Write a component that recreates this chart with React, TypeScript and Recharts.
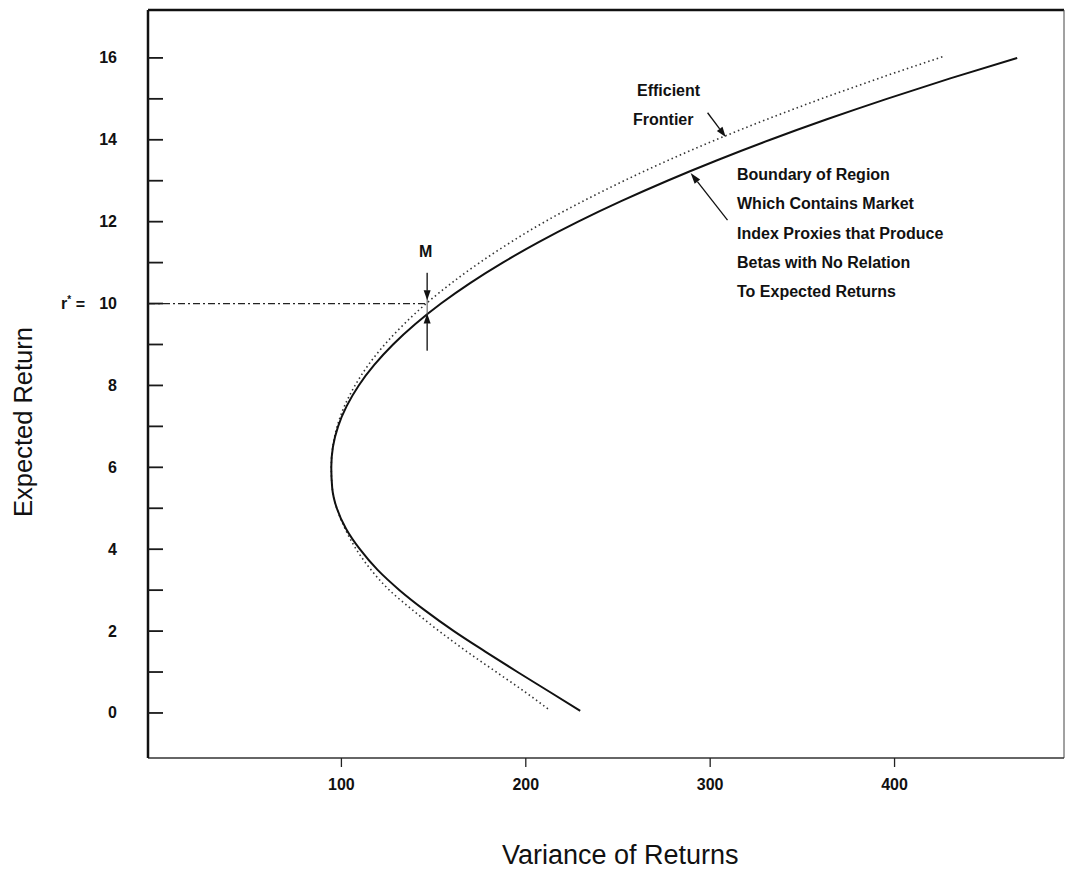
import React from 'react';
import { LineChart, Line, XAxis, YAxis, ReferenceLine } from 'recharts';

// boundary of region (solid curve): expected return -> variance
const BOUNDARY_MU = [0.05, 0.5, 1, 1.5, 2, 2.5, 3, 3.5, 4, 4.5, 5, 5.5, 6, 6.5, 7, 7.5, 8, 8.5, 9, 9.5, 10, 10.5, 11, 11.5, 12, 12.5, 13, 13.5, 14, 14.5, 15, 15.5, 16];
const BOUNDARY_VAR = [229.5, 213.5, 195.5, 178, 161, 145.5, 131.5, 119.5, 110, 102.5, 97.5, 95, 94.5, 95.4, 98.2, 102.9, 109.4, 117.8, 128, 140.1, 154, 169.8, 187.5, 207, 228.4, 251.7, 276.8, 303.8, 332.6, 363.3, 395.8, 430.2, 466.5];

// efficient frontier (dotted curve)
const FRONTIER_MU = [0.1, 0.5, 1, 1.5, 2, 2.5, 3, 3.5, 4, 4.5, 5, 5.5, 6, 6.5, 7, 7.5, 8, 8.5, 9, 9.5, 10, 10.5, 11, 11.5, 12, 12.5, 13, 13.5, 14, 14.5, 15, 15.5, 16.05];
const FRONTIER_VAR = [212, 200, 184, 168, 153, 139, 126, 116, 108, 102, 97.5, 95, 94.5, 95.3, 97.7, 101.7, 107.4, 114.6, 123.5, 134, 146, 159.7, 175, 191.9, 210.4, 231, 253.3, 277.3, 303.1, 330.8, 360.2, 391.4, 427.5];

const X_TICKS = [100, 200, 300, 400];
const Y_TICKS = [0, 1, 2, 3, 4, 5, 6, 7, 8, 9, 10, 11, 12, 13, 14, 15, 16];
const X_DOMAIN: [number, number] = [-4.9, 491.9];
const Y_DOMAIN: [number, number] = [-1.1, 17.17];

const R_STAR = 10;
const M_VAR = 146.5;

const boundary = BOUNDARY_MU.map((mu, i) => ({ mu, v: BOUNDARY_VAR[i] }));
const frontier = FRONTIER_MU.map((mu, i) => ({ mu, v: FRONTIER_VAR[i] }));

const FONT = "'Liberation Sans', Arial, Helvetica, sans-serif";

function arrowShape(head: number, width: number, color: string, sw: number) {
  return (p: any) => {
    const { x1, y1, x2, y2 } = p;
    const a = Math.atan2(y2 - y1, x2 - x1);
    const bx = x2 - head * Math.cos(a);
    const by = y2 - head * Math.sin(a);
    const nx = (-Math.sin(a) * width) / 2;
    const ny = (Math.cos(a) * width) / 2;
    return (
      <g>
        <line x1={x1} y1={y1} x2={bx} y2={by} stroke={color} strokeWidth={sw} />
        <polygon points={`${x2},${y2} ${bx + nx},${by + ny} ${bx - nx},${by - ny}`} fill={color} />
      </g>
    );
  };
}

function YTick(props: any) {
  const { x, y, payload } = props;
  const v = payload.value;
  return (
    <g>
      <line x1={x} x2={x + 15} y1={y} y2={y} stroke="#1a1a1a" strokeWidth={1.8} />
      {v % 2 === 0 && (
        <text x={x - 31} y={y} textAnchor="end" dominantBaseline="central"
          fontFamily={FONT} fontWeight="bold" fontSize={16} fill="#111">
          {v}
        </text>
      )}
      {v === R_STAR && (
        <text x={x - 63} y={y} textAnchor="end" dominantBaseline="central"
          fontFamily={FONT} fontWeight="bold" fontSize={16} fill="#111">
          r<tspan fontSize={10} dy={-5}>*</tspan><tspan dy={5}> =</tspan>
        </text>
      )}
    </g>
  );
}

function XTick(props: any) {
  const { x, y, payload } = props;
  return (
    <g>
      <line x1={x} x2={x} y1={y} y2={y + 9} stroke="#222" strokeWidth={1.3} />
      <text x={x} y={y + 26} textAnchor="middle" dominantBaseline="central"
        fontFamily={FONT} fontWeight="bold" fontSize={16} fill="#111">
        {payload.value}
      </text>
    </g>
  );
}

const note: React.CSSProperties = {
  position: 'absolute',
  fontFamily: FONT,
  fontWeight: 'bold',
  fontSize: 16,
  color: '#111',
  whiteSpace: 'nowrap',
};

export default function App() {
  return (
    <div style={{ position: 'absolute', left: 0, top: 0, width: 1066, height: 872, background: '#fff' }}>
      <LineChart
        layout="vertical"
        width={1066}
        height={872}
        margin={{ top: 10, right: 2, bottom: 113, left: 147 }}
      >
        <XAxis
          type="number"
          domain={X_DOMAIN}
          ticks={X_TICKS}
          allowDataOverflow
          height={1}
          tickSize={0}
          tickMargin={0}
          tickLine={false}
          interval={0}
          tick={<XTick />}
          axisLine={{ stroke: '#333', strokeWidth: 1.5 }}
        />
        <YAxis
          type="number"
          dataKey="mu"
          domain={Y_DOMAIN}
          ticks={Y_TICKS}
          reversed
          allowDataOverflow
          width={1}
          tickSize={0}
          tickMargin={0}
          tickLine={false}
          interval={0}
          tick={<YTick />}
          axisLine={{ stroke: '#111', strokeWidth: 2.5 }}
        />

        {/* frame: top and right */}
        <ReferenceLine y={Y_DOMAIN[1]} stroke="#111" strokeWidth={2.5} />
        <ReferenceLine x={X_DOMAIN[1]} stroke="#444" strokeWidth={1} />

        {/* r* dashed line to M */}
        <ReferenceLine
          segment={[{ x: X_DOMAIN[0], y: R_STAR }, { x: M_VAR, y: R_STAR }]}
          stroke="#222"
          strokeWidth={1.2}
          strokeDasharray="7 3 2 3"
        />

        <Line
          data={frontier}
          dataKey="v"
          type="monotone"
          stroke="#333"
          strokeWidth={1.6}
          strokeDasharray="1.5 3"
          dot={false}
          isAnimationActive={false}
        />
        <Line
          data={boundary}
          dataKey="v"
          type="monotone"
          stroke="#111"
          strokeWidth={2}
          dot={false}
          isAnimationActive={false}
        />

        {/* M marker */}
        <ReferenceLine segment={[{ x: M_VAR, y: 10.75 }, { x: M_VAR, y: 8.85 }]} stroke="#555" strokeWidth={1} />
        <ReferenceLine segment={[{ x: M_VAR, y: 10.75 }, { x: M_VAR, y: 10.08 }]} shape={arrowShape(10, 7, '#111', 1)} />
        <ReferenceLine segment={[{ x: M_VAR, y: 8.85 }, { x: M_VAR, y: 9.76 }]} shape={arrowShape(10, 7, '#111', 1)} />

        {/* annotation arrows */}
        <ReferenceLine segment={[{ x: 298.6, y: 14.66 }, { x: 308.4, y: 14.07 }]} shape={arrowShape(10, 7, '#111', 1.3)} />
        <ReferenceLine segment={[{ x: 309.4, y: 12.04 }, { x: 289.4, y: 13.19 }]} shape={arrowShape(11, 7, '#111', 1.3)} />
      </LineChart>

      <div style={{ ...note, left: 637, top: 82 }}>Efficient</div>
      <div style={{ ...note, left: 633, top: 111 }}>Frontier</div>
      <div style={{ ...note, left: 419, top: 243 }}>M</div>

      <div style={{ ...note, left: 737, top: 160, lineHeight: '29.3px' }}>
        Boundary of Region<br />
        Which Contains Market<br />
        Index Proxies that Produce<br />
        Betas with No Relation<br />
        To Expected Returns
      </div>

      <div
        style={{
          position: 'absolute', left: 502, top: 840, fontFamily: FONT, fontSize: 27, color: '#111', whiteSpace: 'nowrap',
        }}
      >
        Variance of Returns
      </div>
      <div
        style={{
          position: 'absolute', left: 23 - 150, top: 422 - 16, width: 300, height: 32, lineHeight: '32px',
          textAlign: 'center', transform: 'rotate(-90deg)', fontFamily: FONT, fontSize: 25.5, color: '#111', whiteSpace: 'nowrap',
        }}
      >
        Expected Return
      </div>
    </div>
  );
}
